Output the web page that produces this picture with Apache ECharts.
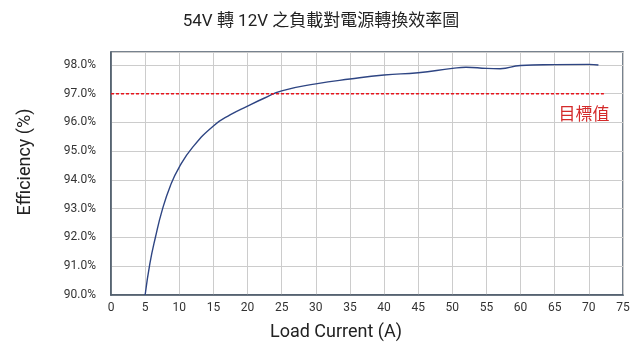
<!DOCTYPE html>
<html>
<head>
<meta charset="utf-8">
<script src="https://cdn.jsdelivr.net/npm/echarts@6/dist/echarts.min.js"></script>
<style>
  html, body { margin: 0; padding: 0; background: #fff; }
  #chart { width: 642px; height: 349px; }
</style>
</head>
<body>
<div id="chart"></div>
<script>
// 負載電流 (A) 與效率 (%)
const loadCurrent = [5, 5.7, 6.5, 7.5, 8.7, 10, 12, 15, 17.5, 20, 22.5, 25, 30, 35, 40, 45, 50, 52, 55, 57, 60, 65, 70, 71.4]
const efficiency = [90.0, 91.1, 92.0, 92.95, 93.8, 94.45, 95.15, 95.88, 96.27, 96.57, 96.85, 97.1, 97.34, 97.51, 97.65, 97.73, 97.88, 97.92, 97.88, 97.87, 97.98, 98.01, 98.02, 98.0]
// 目標值
const targetX = [0, 72.2]
const targetY = [97, 97]
const targetLabel = '目標值'

const chart = echarts.init(document.getElementById('chart'))
const fontFamily = 'Roboto, "Noto Sans CJK TC", sans-serif'
const borderColor = '#4b5a69'

const curveData = loadCurrent.map((x, i) => [x, efficiency[i]])
const targetData = targetX.map((x, i) => [x, targetY[i]])
// 最後一點顯示標籤
targetData[targetData.length - 1] = {
  value: targetData[targetData.length - 1],
  label: {
    show: true,
    formatter: targetLabel,
    position: 'bottom',
    offset: [-20, 9],
    color: '#d42a2a',
    fontSize: 17,
    fontFamily: fontFamily
  }
}

const option = {
  animation: false,
  title: {
    text: '54V 轉 12V 之負載對電源轉換效率圖',
    left: 'center',
    top: 8,
    textStyle: {
      fontSize: 17,
      fontWeight: 'normal',
      color: '#222',
      fontFamily: fontFamily
    }
  },
  grid: {
    left: 111,
    right: 19,
    top: 52,
    bottom: 54,
    show: true,
    borderColor: borderColor,
    borderWidth: 1.5
  },
  xAxis: {
    type: 'value',
    min: 0,
    max: 75,
    interval: 5,
    name: 'Load Current (A)',
    nameLocation: 'middle',
    nameGap: 29,
    nameTextStyle: { fontSize: 18, color: '#222', fontFamily: fontFamily, padding: [0, 62, 0, 0] },
    axisLine: { show: true, lineStyle: { color: borderColor, width: 1.5 } },
    axisTick: { show: false },
    axisLabel: { fontSize: 12, color: '#333', margin: 7, fontFamily: fontFamily },
    splitLine: { show: true, lineStyle: { color: '#cccccc', width: 1 } }
  },
  yAxis: {
    type: 'value',
    min: 90,
    max: 98.45,
    interval: 1,
    name: 'Efficiency (%)',
    nameLocation: 'middle',
    nameGap: 77,
    nameTextStyle: { fontSize: 18, color: '#222', fontFamily: fontFamily, padding: [0, 0, 0, 23] },
    axisLine: { show: true, lineStyle: { color: borderColor, width: 1.5 } },
    axisTick: { show: false },
    axisLabel: {
      fontSize: 12,
      color: '#333',
      margin: 15,
      showMaxLabel: false,
      fontFamily: fontFamily,
      formatter: v => v.toFixed(1) + '%'
    },
    splitLine: { show: true, lineStyle: { color: '#cccccc', width: 1 } }
  },
  series: [
    {
      name: 'efficiency',
      type: 'line',
      data: curveData,
      smooth: 0.5,
      showSymbol: false,
      lineStyle: { color: '#2e4583', width: 1.4 }
    },
    {
      name: 'target',
      type: 'line',
      data: targetData,
      symbol: 'circle',
      symbolSize: 0,
      showSymbol: true,
      lineStyle: { color: '#e8141c', width: 1.5, type: [3, 2] }
    }
  ]
}

chart.setOption(option)
</script>
</body>
</html>
